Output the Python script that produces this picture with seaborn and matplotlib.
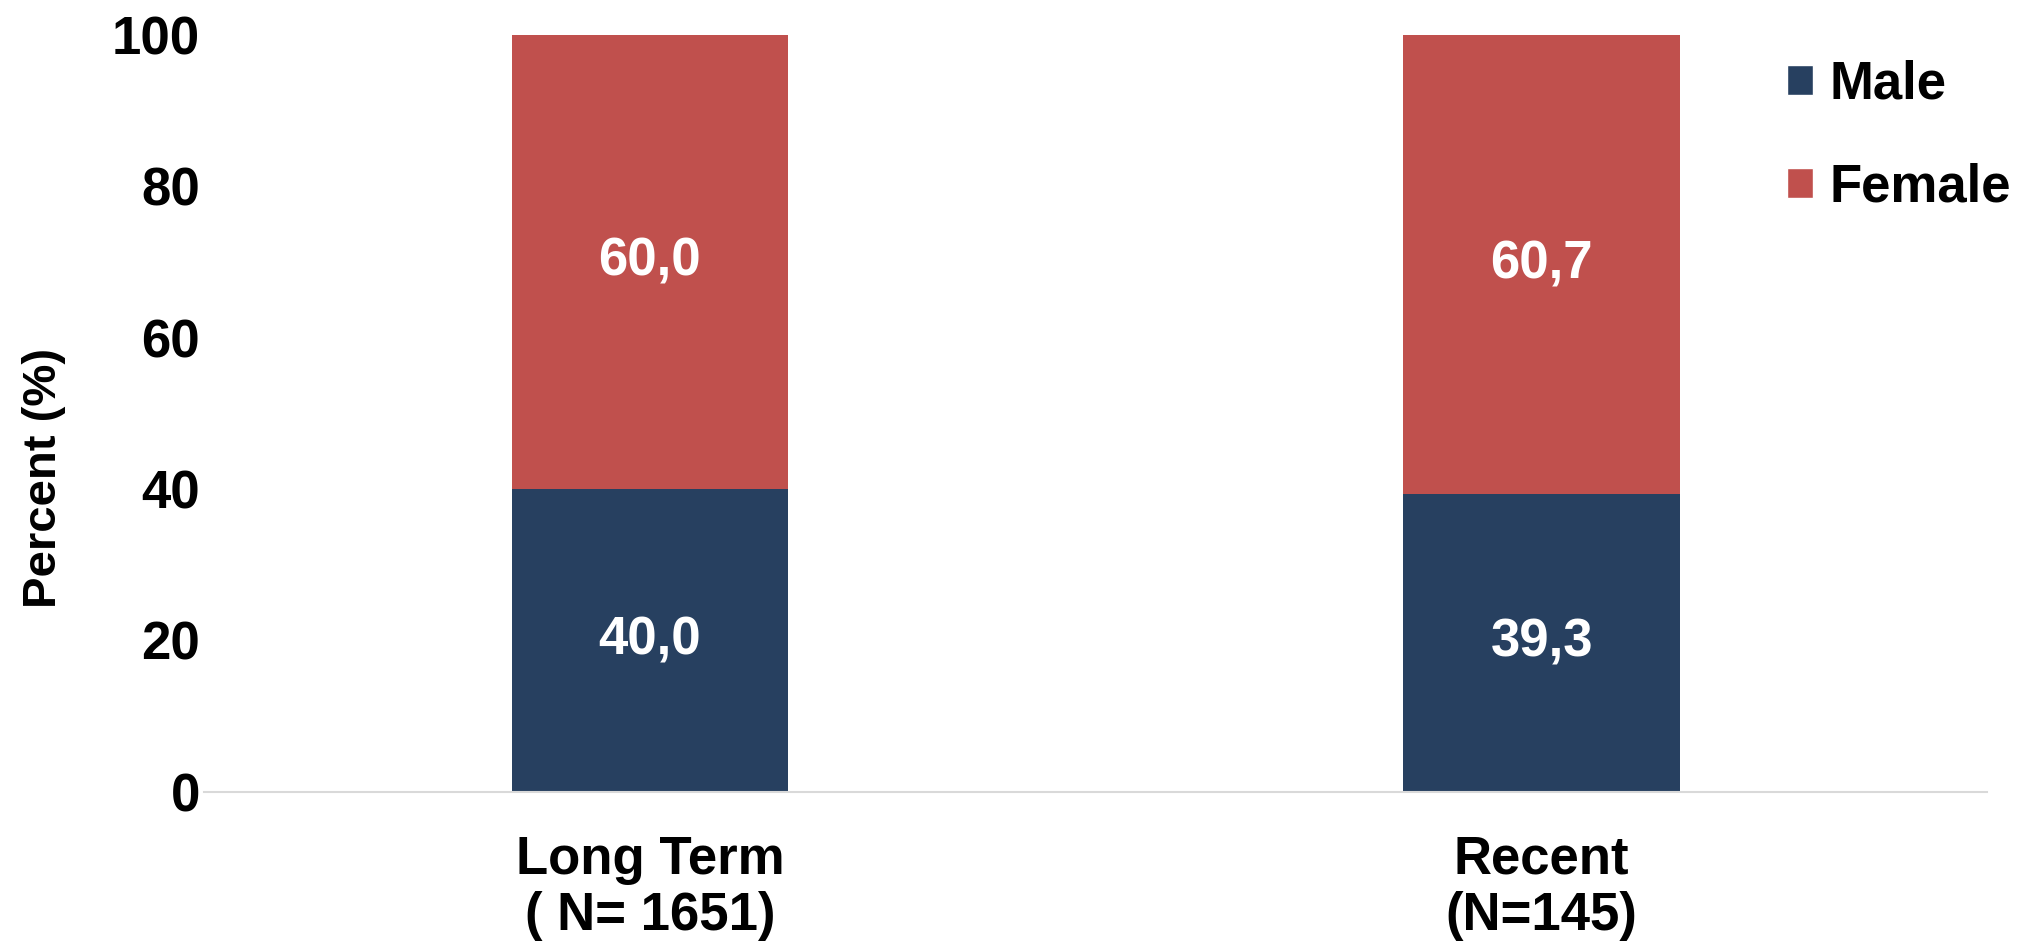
import matplotlib
matplotlib.use("Agg")
import matplotlib.pyplot as plt
import seaborn as sns
import pandas as pd
from matplotlib.patches import Patch

categories = ["Long Term\n( N= 1651)", "Recent\n(N=145)"]
male = [40.0, 39.3]
female = [60.0, 60.7]
male_labels = ["40,0", "39,3"]
female_labels = ["60,0", "60,7"]
yticks = [0, 20, 40, 60, 80, 100]

MALE_C = "#274060"
FEMALE_C = "#C0504D"

sns.set_theme(style="white")
plt.rcParams["font.family"] = ["Liberation Sans", "DejaVu Sans"]
plt.rcParams["font.weight"] = "bold"
plt.rcParams["text.color"] = "black"
plt.rcParams["xtick.color"] = "black"
plt.rcParams["ytick.color"] = "black"
plt.rcParams["axes.labelcolor"] = "black"

df = pd.DataFrame({"cat": categories, "male": male, "female": female})
df["total"] = df["male"] + df["female"]

fig = plt.figure(figsize=(20.28, 9.46), dpi=100)
ax = fig.add_axes([0.1006, 0.1632, 0.8794, 0.7999])

sns.barplot(data=df, x="cat", y="total", color=FEMALE_C, saturation=1,
            width=0.31, ax=ax, linewidth=0)
sns.barplot(data=df, x="cat", y="male", color=MALE_C, saturation=1,
            width=0.31, ax=ax, linewidth=0)

for i in range(len(categories)):
    ax.text(i, male[i] / 2, male_labels[i], ha="center", va="center",
            color="white", fontsize=38, fontweight="bold")
    ax.text(i, male[i] + female[i] / 2, female_labels[i], ha="center",
            va="center", color="white", fontsize=38, fontweight="bold")

ax.set_xlim(-0.5, 1.5)
ax.set_ylim(0, 100)
ax.set_yticks(yticks)
ax.set_yticklabels([str(t) for t in yticks], fontsize=38, fontweight="bold")
ax.tick_params(axis="y", length=0, pad=3)
ax.tick_params(axis="x", length=0, pad=31, labelsize=38)
for lab in ax.get_xticklabels():
    lab.set_fontweight("bold")
    lab.set_linespacing(1.15)
ax.set_xlabel("")
ax.set_ylabel("Percent (%)", fontsize=34, fontweight="bold")
ax.yaxis.set_label_coords(-0.0775, 0.415)

for s in ["top", "right", "left"]:
    ax.spines[s].set_visible(False)
ax.spines["bottom"].set_color("#D9D9D9")
ax.spines["bottom"].set_linewidth(1.5)

handles = [Patch(facecolor=MALE_C, label="Male"),
           Patch(facecolor=FEMALE_C, label="Female")]
fig.legend(handles=handles, loc="upper left", bbox_to_anchor=(0.8575, 0.987),
           frameon=False, prop={"size": 38, "weight": "bold"},
           handlelength=0.51, handleheight=0.51, handletextpad=0.3,
           labelspacing=1.0)

fig.savefig("out.png", dpi=100)
